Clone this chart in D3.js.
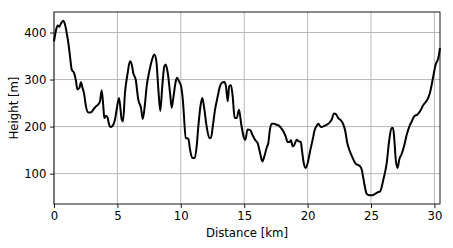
<!DOCTYPE html>
<html>
<head>
<meta charset="utf-8">
<script src="https://cdn.jsdelivr.net/npm/d3@7"></script>
<style>
  body { margin: 0; background: #fff; }
  text { font-family: "DejaVu Sans", sans-serif; }
</style>
</head>
<body>
<svg id="chart"></svg>
<script>
// elevation profile
const distance = [0.00, 0.16, 0.29, 0.42, 0.55, 0.73, 0.87, 1.00, 1.13, 1.26, 1.40, 1.58, 1.74, 1.84, 2.00, 2.13, 2.23, 2.37, 2.52, 2.71,
  2.89, 3.10, 3.31, 3.49, 3.63, 3.76, 3.89, 3.97, 4.10, 4.24, 4.31, 4.47, 4.63, 4.81, 4.94, 5.13, 5.34, 5.44, 5.60, 5.81,
  5.99, 6.13, 6.25, 6.44, 6.65, 6.86, 7.00, 7.18, 7.31, 7.49, 7.70, 7.91, 8.07, 8.23, 8.38, 8.54, 8.70, 8.81, 8.97, 9.15,
  9.28, 9.41, 9.60, 9.70, 9.86, 10.02, 10.20, 10.25, 10.39, 10.59, 10.73, 10.91, 11.10, 11.25, 11.38, 11.57, 11.70, 11.86, 12.04, 12.25,
  12.38, 12.52, 12.70, 12.91, 13.09, 13.27, 13.43, 13.56, 13.70, 13.82, 13.96, 14.09, 14.25, 14.41, 14.59, 14.77, 14.98, 15.09, 15.26, 15.46,
  15.64, 15.85, 16.06, 16.25, 16.43, 16.59, 16.77, 16.90, 17.03, 17.17, 17.37, 17.56, 17.74, 17.90, 18.08, 18.27, 18.43, 18.56, 18.69, 18.82,
  18.93, 19.01, 19.14, 19.27, 19.46, 19.58, 19.69, 19.85, 20.01, 20.19, 20.45, 20.53, 20.72, 20.84, 21.06, 21.29, 21.51, 21.71, 21.90, 22.08,
  22.24, 22.42, 22.63, 22.82, 22.97, 23.13, 23.34, 23.56, 23.74, 23.92, 24.13, 24.27, 24.39, 24.53, 24.66, 24.87, 25.10, 25.32, 25.58, 25.71,
  25.97, 26.24, 26.44, 26.62, 26.74, 26.84, 26.95, 27.09, 27.23, 27.42, 27.62, 27.81, 28.05, 28.23, 28.41, 28.68, 28.90, 29.10, 29.34, 29.53,
  29.71, 29.91, 30.10, 30.31, 30.44];
const height = [381, 405, 415, 412, 419, 425, 417, 399, 378, 350, 321, 314, 296, 279, 282, 294, 284, 270, 243, 230,
  230, 236, 243, 247, 254, 277, 243, 218, 223, 218, 208, 199, 202, 215, 236, 261, 215, 211, 272, 314,
  339, 332, 314, 300, 257, 240, 216, 250, 286, 314, 339, 353, 339, 279, 233, 286, 328, 332, 314, 272,
  240, 261, 296, 304, 296, 286, 243, 222, 176, 174, 151, 133, 133, 158, 200, 247, 261, 236, 200, 176,
  176, 200, 236, 264, 286, 294, 295, 286, 254, 286, 288, 264, 218, 218, 236, 204, 176, 172, 194, 193,
  183, 172, 165, 144, 126, 137, 155, 165, 194, 206, 206, 204, 202, 197, 190, 179, 167, 167, 171, 158,
  160, 165, 172, 169, 167, 144, 123, 112, 123, 147, 179, 190, 202, 206, 199, 201, 204, 208, 215, 228,
  226, 218, 213, 204, 190, 165, 147, 133, 123, 119, 116, 108, 91, 70, 57, 54, 54, 57, 61, 62,
  87, 123, 172, 197, 197, 172, 130, 112, 130, 142, 160, 182, 202, 212, 222, 226, 234, 245, 253, 262,
  279, 307, 332, 346, 367];

const xTicks = [0, 5, 10, 15, 20, 25, 30];
const yTicks = [100, 200, 300, 400];

const W = 453, H = 248;
const margin = {top: 12, right: 13, bottom: 44, left: 54};
const width = W - margin.left - margin.right;
const plotH = H - margin.top - margin.bottom;
const fontSize = 11.7;

const points = distance.map((d, i) => ({x: d, y: height[i]}));

const svg = d3.select("#chart").attr("width", W).attr("height", H);
const g = svg.append("g").attr("transform", `translate(${margin.left},${margin.top})`);

const x = d3.scaleLinear().domain([0, d3.max(distance)]).range([0, width]);
const yMin = d3.min(height), yMax = d3.max(height);
const pad = (yMax - yMin) * 0.05;
const y = d3.scaleLinear().domain([yMin - pad, yMax + pad]).range([plotH, 0]);

// grid
g.append("g").selectAll("line").data(xTicks).join("line")
  .attr("x1", d => x(d)).attr("x2", d => x(d))
  .attr("y1", 0).attr("y2", plotH)
  .attr("stroke", "#b0b0b0").attr("stroke-width", 0.9);
g.append("g").selectAll("line").data(yTicks).join("line")
  .attr("x1", 0).attr("x2", width)
  .attr("y1", d => y(d)).attr("y2", d => y(d))
  .attr("stroke", "#b0b0b0").attr("stroke-width", 0.9);

// profile
g.append("path")
  .datum(points)
  .attr("fill", "none")
  .attr("stroke", "#000")
  .attr("stroke-width", 2)
  .attr("stroke-linejoin", "round")
  .attr("d", d3.line().x(d => x(d.x)).y(d => y(d.y)).curve(d3.curveMonotoneX));

// frame
g.append("rect").attr("width", width).attr("height", plotH)
  .attr("fill", "none").attr("stroke", "#000").attr("stroke-width", 0.9);

// axes
const xAxis = g.append("g").attr("transform", `translate(0,${plotH})`)
  .call(d3.axisBottom(x).tickValues(xTicks).tickSize(4).tickPadding(3.5));
const yAxis = g.append("g")
  .call(d3.axisLeft(y).tickValues(yTicks).tickSize(4).tickPadding(3.5));
[xAxis, yAxis].forEach(a => {
  a.select(".domain").remove();
  a.selectAll("line").attr("stroke", "#000").attr("stroke-width", 0.9);
  a.selectAll("text").attr("font-size", fontSize).attr("fill", "#000")
    .attr("font-family", "DejaVu Sans, sans-serif");
});

svg.append("text")
  .attr("x", margin.left + width / 2).attr("y", 237)
  .attr("text-anchor", "middle").attr("font-size", fontSize)
  .text("Distance [km]");
svg.append("text")
  .attr("transform", `translate(18,${margin.top + plotH / 2}) rotate(-90)`)
  .attr("text-anchor", "middle").attr("font-size", fontSize)
  .text("Height [m]");
</script>
</body>
</html>
